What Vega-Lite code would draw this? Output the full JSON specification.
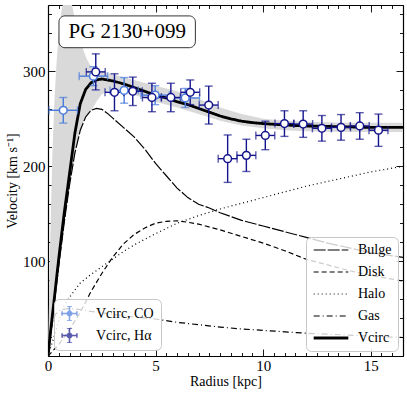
{
  "$schema": "https://vega.github.io/schema/vega-lite/v6.json",
  "width": 355,
  "height": 351,
  "autosize": "none",
  "padding": {"left": 48, "top": 5, "right": 4, "bottom": 39},
  "config": {
    "font": "Liberation Serif",
    "view": {"stroke": null},
    "axis": {"grid": false, "domainColor": "black", "domainWidth": 1.2, "tickColor": "black", "tickWidth": 0.9, "labelColor": "black", "titleColor": "black", "labelFontSize": 15, "titleFontSize": 14, "titleFontWeight": "normal", "labelFont": "Liberation Serif", "titleFont": "Liberation Serif"},
    "legend": {"labelFont": "Liberation Serif", "labelFontSize": 14, "labelColor": "black"}
  },
  "datasets": {
    "band": [
      {"r": 0, "lo": 0, "hi": 0}, {"r": 0.05, "lo": 8, "hi": 60}, {"r": 0.1, "lo": 18, "hi": 120}, {"r": 0.2, "lo": 38, "hi": 210},
      {"r": 0.3, "lo": 58, "hi": 270}, {"r": 0.4, "lo": 78, "hi": 310}, {"r": 0.5, "lo": 97, "hi": 340}, {"r": 0.6, "lo": 114, "hi": 360},
      {"r": 0.75, "lo": 140, "hi": 378}, {"r": 0.9, "lo": 163, "hi": 382}, {"r": 1.0, "lo": 178, "hi": 380}, {"r": 1.1, "lo": 193, "hi": 372},
      {"r": 1.25, "lo": 213, "hi": 355}, {"r": 1.35, "lo": 225, "hi": 345}, {"r": 1.5, "lo": 238, "hi": 333}, {"r": 1.65, "lo": 247, "hi": 322},
      {"r": 1.8, "lo": 252, "hi": 313}, {"r": 2.0, "lo": 258, "hi": 305}, {"r": 2.25, "lo": 268, "hi": 301}, {"r": 2.5, "lo": 276, "hi": 300},
      {"r": 3.0, "lo": 282, "hi": 297}, {"r": 3.5, "lo": 280, "hi": 294}, {"r": 4.0, "lo": 275, "hi": 291}, {"r": 5.0, "lo": 268, "hi": 285},
      {"r": 6.0, "lo": 262, "hi": 279}, {"r": 7.0, "lo": 255, "hi": 271}, {"r": 8.0, "lo": 248, "hi": 262}, {"r": 9.0, "lo": 243, "hi": 255},
      {"r": 10, "lo": 240, "hi": 250}, {"r": 11, "lo": 238, "hi": 248}, {"r": 12, "lo": 237, "hi": 247}, {"r": 14, "lo": 236, "hi": 246},
      {"r": 16.5, "lo": 236, "hi": 246}
    ],
    "curves": [
      {"c": "Bulge", "r": 0, "v": 0}, {"c": "Bulge", "r": 0.1, "v": 18}, {"c": "Bulge", "r": 0.2, "v": 37}, {"c": "Bulge", "r": 0.3, "v": 57},
      {"c": "Bulge", "r": 0.5, "v": 95}, {"c": "Bulge", "r": 0.75, "v": 140}, {"c": "Bulge", "r": 1.0, "v": 180}, {"c": "Bulge", "r": 1.25, "v": 214},
      {"c": "Bulge", "r": 1.5, "v": 238}, {"c": "Bulge", "r": 1.75, "v": 252}, {"c": "Bulge", "r": 2.0, "v": 259}, {"c": "Bulge", "r": 2.25, "v": 261},
      {"c": "Bulge", "r": 2.5, "v": 260}, {"c": "Bulge", "r": 2.75, "v": 256}, {"c": "Bulge", "r": 3.0, "v": 251}, {"c": "Bulge", "r": 3.5, "v": 241},
      {"c": "Bulge", "r": 4.0, "v": 231}, {"c": "Bulge", "r": 4.5, "v": 218}, {"c": "Bulge", "r": 5.0, "v": 203}, {"c": "Bulge", "r": 5.5, "v": 190},
      {"c": "Bulge", "r": 6.0, "v": 177}, {"c": "Bulge", "r": 6.5, "v": 167}, {"c": "Bulge", "r": 7.0, "v": 160}, {"c": "Bulge", "r": 7.5, "v": 156},
      {"c": "Bulge", "r": 8.0, "v": 151}, {"c": "Bulge", "r": 9.0, "v": 143}, {"c": "Bulge", "r": 10, "v": 137}, {"c": "Bulge", "r": 11, "v": 131},
      {"c": "Bulge", "r": 12, "v": 125}, {"c": "Bulge", "r": 13, "v": 119}, {"c": "Bulge", "r": 14, "v": 114}, {"c": "Bulge", "r": 15, "v": 109},
      {"c": "Bulge", "r": 16.5, "v": 104},
      {"c": "Disk", "r": 0, "v": 0}, {"c": "Disk", "r": 0.5, "v": 12}, {"c": "Disk", "r": 1.0, "v": 28}, {"c": "Disk", "r": 1.5, "v": 46},
      {"c": "Disk", "r": 2.0, "v": 68}, {"c": "Disk", "r": 2.5, "v": 87}, {"c": "Disk", "r": 3.0, "v": 104}, {"c": "Disk", "r": 3.5, "v": 118},
      {"c": "Disk", "r": 4.0, "v": 128}, {"c": "Disk", "r": 4.5, "v": 135}, {"c": "Disk", "r": 5.0, "v": 140}, {"c": "Disk", "r": 5.5, "v": 142},
      {"c": "Disk", "r": 6.0, "v": 142.5}, {"c": "Disk", "r": 6.5, "v": 141}, {"c": "Disk", "r": 7.0, "v": 139}, {"c": "Disk", "r": 8.0, "v": 133},
      {"c": "Disk", "r": 9.0, "v": 126}, {"c": "Disk", "r": 10, "v": 119}, {"c": "Disk", "r": 11, "v": 111}, {"c": "Disk", "r": 12, "v": 102},
      {"c": "Disk", "r": 13, "v": 96}, {"c": "Disk", "r": 14, "v": 90}, {"c": "Disk", "r": 15, "v": 85}, {"c": "Disk", "r": 16.5, "v": 79},
      {"c": "Halo", "r": 0, "v": 0}, {"c": "Halo", "r": 0.25, "v": 18}, {"c": "Halo", "r": 0.5, "v": 37}, {"c": "Halo", "r": 0.75, "v": 53},
      {"c": "Halo", "r": 1.0, "v": 62}, {"c": "Halo", "r": 1.5, "v": 77}, {"c": "Halo", "r": 2.0, "v": 86}, {"c": "Halo", "r": 2.5, "v": 94},
      {"c": "Halo", "r": 3.0, "v": 102}, {"c": "Halo", "r": 3.5, "v": 110}, {"c": "Halo", "r": 4.0, "v": 117}, {"c": "Halo", "r": 4.5, "v": 123},
      {"c": "Halo", "r": 5.0, "v": 129}, {"c": "Halo", "r": 6.0, "v": 140}, {"c": "Halo", "r": 7.0, "v": 148}, {"c": "Halo", "r": 8.0, "v": 155},
      {"c": "Halo", "r": 9.0, "v": 161}, {"c": "Halo", "r": 10, "v": 167}, {"c": "Halo", "r": 11, "v": 173}, {"c": "Halo", "r": 12, "v": 179},
      {"c": "Halo", "r": 13, "v": 184}, {"c": "Halo", "r": 14, "v": 189}, {"c": "Halo", "r": 15, "v": 194}, {"c": "Halo", "r": 16.5, "v": 200},
      {"c": "Gas", "r": 0, "v": 0}, {"c": "Gas", "r": 0.1, "v": 22}, {"c": "Gas", "r": 0.2, "v": 35}, {"c": "Gas", "r": 0.35, "v": 44},
      {"c": "Gas", "r": 0.6, "v": 49}, {"c": "Gas", "r": 1.0, "v": 50}, {"c": "Gas", "r": 1.5, "v": 49}, {"c": "Gas", "r": 2.0, "v": 47},
      {"c": "Gas", "r": 3.0, "v": 44}, {"c": "Gas", "r": 4.0, "v": 41}, {"c": "Gas", "r": 5.0, "v": 39}, {"c": "Gas", "r": 6.0, "v": 35.5},
      {"c": "Gas", "r": 7.0, "v": 33}, {"c": "Gas", "r": 8.0, "v": 30.5}, {"c": "Gas", "r": 9.0, "v": 28.5}, {"c": "Gas", "r": 10, "v": 27},
      {"c": "Gas", "r": 11, "v": 25.5}, {"c": "Gas", "r": 12, "v": 24}, {"c": "Gas", "r": 13, "v": 23}, {"c": "Gas", "r": 14, "v": 22},
      {"c": "Gas", "r": 15, "v": 21}, {"c": "Gas", "r": 16.5, "v": 19.5},
      {"c": "Vcirc", "r": 0, "v": 0}, {"c": "Vcirc", "r": 0.1, "v": 22}, {"c": "Vcirc", "r": 0.2, "v": 42}, {"c": "Vcirc", "r": 0.3, "v": 62},
      {"c": "Vcirc", "r": 0.5, "v": 103}, {"c": "Vcirc", "r": 0.75, "v": 150}, {"c": "Vcirc", "r": 1.0, "v": 192}, {"c": "Vcirc", "r": 1.25, "v": 235},
      {"c": "Vcirc", "r": 1.5, "v": 266}, {"c": "Vcirc", "r": 1.75, "v": 281}, {"c": "Vcirc", "r": 2.0, "v": 288}, {"c": "Vcirc", "r": 2.25, "v": 291},
      {"c": "Vcirc", "r": 2.5, "v": 292}, {"c": "Vcirc", "r": 3.0, "v": 290}, {"c": "Vcirc", "r": 3.5, "v": 287}, {"c": "Vcirc", "r": 4.0, "v": 283},
      {"c": "Vcirc", "r": 4.5, "v": 279}, {"c": "Vcirc", "r": 5.0, "v": 275}, {"c": "Vcirc", "r": 5.5, "v": 272}, {"c": "Vcirc", "r": 6.0, "v": 268},
      {"c": "Vcirc", "r": 6.5, "v": 265}, {"c": "Vcirc", "r": 7.0, "v": 261}, {"c": "Vcirc", "r": 7.5, "v": 257}, {"c": "Vcirc", "r": 8.0, "v": 253},
      {"c": "Vcirc", "r": 8.5, "v": 250}, {"c": "Vcirc", "r": 9.0, "v": 247.5}, {"c": "Vcirc", "r": 9.5, "v": 246}, {"c": "Vcirc", "r": 10, "v": 245},
      {"c": "Vcirc", "r": 11, "v": 243.5}, {"c": "Vcirc", "r": 12, "v": 242.5}, {"c": "Vcirc", "r": 13, "v": 242}, {"c": "Vcirc", "r": 14, "v": 241.5},
      {"c": "Vcirc", "r": 15, "v": 241}, {"c": "Vcirc", "r": 16.5, "v": 241}
    ],
    "obs": [
      {"s": "CO", "r": 0.71, "v": 259, "re": 0.66, "ve": 13.5},
      {"s": "CO", "r": 2.11, "v": 295, "re": 0.66, "ve": 10},
      {"s": "CO", "r": 3.54, "v": 280, "re": 0.66, "ve": 13.5},
      {"s": "CO", "r": 4.98, "v": 275, "re": 0.66, "ve": 10},
      {"s": "CO", "r": 6.38, "v": 272, "re": 0.66, "ve": 10},
      {"s": "Hα", "r": 2.22, "v": 299.5, "re": 0.44, "ve": 19},
      {"s": "Hα", "r": 3.09, "v": 278, "re": 0.44, "ve": 19.5},
      {"s": "Hα", "r": 3.94, "v": 279, "re": 0.44, "ve": 15},
      {"s": "Hα", "r": 4.83, "v": 272.5, "re": 0.44, "ve": 15},
      {"s": "Hα", "r": 5.71, "v": 272.5, "re": 0.44, "ve": 15},
      {"s": "Hα", "r": 6.61, "v": 278, "re": 0.44, "ve": 13},
      {"s": "Hα", "r": 7.47, "v": 264.5, "re": 0.44, "ve": 20},
      {"s": "Hα", "r": 8.35, "v": 208, "re": 0.44, "ve": 25},
      {"s": "Hα", "r": 9.22, "v": 211.5, "re": 0.44, "ve": 17},
      {"s": "Hα", "r": 10.1, "v": 232.5, "re": 0.44, "ve": 15},
      {"s": "Hα", "r": 10.99, "v": 245, "re": 0.44, "ve": 13.5},
      {"s": "Hα", "r": 11.86, "v": 244.5, "re": 0.44, "ve": 14},
      {"s": "Hα", "r": 12.73, "v": 240, "re": 0.44, "ve": 13.5},
      {"s": "Hα", "r": 13.62, "v": 241, "re": 0.44, "ve": 13.5},
      {"s": "Hα", "r": 14.49, "v": 242.5, "re": 0.44, "ve": 14},
      {"s": "Hα", "r": 15.36, "v": 238, "re": 0.44, "ve": 17}
    ]
  },
  "resolve": {"axis": {"x": "independent", "y": "independent"}},
  "layer": [
    {
      "data": {"name": "band"},
      "mark": {"type": "area", "color": "#d9d9d9", "clip": true},
      "encoding": {
        "x": {"field": "r", "type": "quantitative", "scale": {"domain": [0, 16.5], "nice": false, "zero": false},
          "axis": {"orient": "bottom", "title": "Radius [kpc]", "values": [0,0.5,1,1.5,2,2.5,3,3.5,4,4.5,5,5.5,6,6.5,7,7.5,8,8.5,9,9.5,10,10.5,11,11.5,12,12.5,13,13.5,14,14.5,15,15.5,16,16.5],
            "labelExpr": "datum.value % 5 === 0 ? format(datum.value, 'd') : ''", "tickSize": {"condition": {"test": "datum.value % 5 === 0", "value": -7}, "value": -3.5}, "labelPadding": 9, "labelFlush": false, "titlePadding": 1}},
        "y": {"field": "lo", "type": "quantitative", "scale": {"domain": [0, 370], "nice": false},
          "axis": {"orient": "left", "title": "Velocity [km s⁻¹]", "values": [0,20,40,60,80,100,120,140,160,180,200,220,240,260,280,300,320,340,360],
            "labelExpr": "datum.value > 0 && datum.value % 100 === 0 ? datum.label : ''", "tickSize": {"condition": {"test": "datum.value % 100 === 0", "value": -7}, "value": -3.5}, "labelPadding": 10, "labelFlush": false, "titlePadding": 3}},
        "y2": {"field": "hi"}
      }
    },
    {
      "data": {"name": "curves"},
      "mark": {"type": "line", "color": "black", "clip": true},
      "encoding": {
        "x": {"field": "r", "type": "quantitative",
          "axis": {"orient": "top", "title": null, "values": [0,0.5,1,1.5,2,2.5,3,3.5,4,4.5,5,5.5,6,6.5,7,7.5,8,8.5,9,9.5,10,10.5,11,11.5,12,12.5,13,13.5,14,14.5,15,15.5,16,16.5],
            "labels": false, "tickSize": {"condition": {"test": "datum.value % 5 === 0", "value": -7}, "value": -3.5}}},
        "y": {"field": "v", "type": "quantitative",
          "axis": {"orient": "right", "title": null, "values": [0,20,40,60,80,100,120,140,160,180,200,220,240,260,280,300,320,340,360],
            "labels": false, "tickSize": {"condition": {"test": "datum.value % 100 === 0", "value": -7}, "value": -3.5}}},
        "strokeDash": {"field": "c", "type": "nominal", "scale": {"domain": ["Bulge", "Disk", "Halo", "Gas", "Vcirc"], "range": [[12, 2], [5, 3], [1, 3], [6, 3, 1, 3], [1, 0]]},
          "legend": {"title": null, "orient": "bottom-right", "offset": 5, "symbolType": "stroke", "symbolSize": 1200, "clipHeight": 14, "symbolStrokeColor": "black", "rowPadding": 8, "labelOffset": 8,
            "fillColor": "rgba(255,255,255,0.8)", "strokeColor": "#c8c8c8", "cornerRadius": 5, "padding": 6}},
        "strokeWidth": {"field": "c", "type": "nominal", "scale": {"type": "ordinal", "domain": ["Bulge", "Disk", "Halo", "Gas", "Vcirc"], "range": [1.2, 1.2, 1.2, 1.2, 2.8]},
          "legend": {"title": null, "orient": "bottom-right", "offset": 5, "symbolType": "stroke", "symbolSize": 1200, "clipHeight": 14, "symbolStrokeColor": "black", "rowPadding": 8, "labelOffset": 8,
            "fillColor": "rgba(255,255,255,0.8)", "strokeColor": "#c8c8c8", "cornerRadius": 5, "padding": 6}}
      }
    },
    {
      "data": {"name": "obs"},
      "mark": {"type": "errorbar", "ticks": {"size": 8}, "thickness": 1.4},
      "encoding": {
        "x": {"field": "r", "type": "quantitative", "axis": null},
        "y": {"field": "v", "type": "quantitative", "axis": null},
        "yError": {"field": "ve"},
        "color": {"field": "s", "type": "nominal", "scale": {"domain": ["CO", "Hα"], "range": ["#4a7bdc", "#14148c"]}}
      }
    },
    {
      "data": {"name": "obs"},
      "mark": {"type": "errorbar", "ticks": {"size": 8}, "thickness": 1.4},
      "encoding": {
        "x": {"field": "r", "type": "quantitative", "axis": null},
        "xError": {"field": "re"},
        "y": {"field": "v", "type": "quantitative", "axis": null},
        "color": {"field": "s", "type": "nominal", "scale": {"domain": ["CO", "Hα"], "range": ["#4a7bdc", "#14148c"]}}
      }
    },
    {
      "data": {"name": "obs"},
      "mark": {"type": "point", "shape": "circle", "fill": "white", "filled": false, "opacity": 1, "size": 60, "strokeWidth": 1.5},
      "encoding": {
        "x": {"field": "r", "type": "quantitative", "axis": null},
        "y": {"field": "v", "type": "quantitative", "axis": null},
        "color": {"field": "s", "type": "nominal", "scale": {"domain": ["CO", "Hα"], "range": ["#4a7bdc", "#14148c"]},
          "legend": {"title": null, "orient": "bottom-left", "offset": 6,
            "symbolType": "M-1,-0.3L-1,0.3M-1,0L-0.3,0M0.3,0L1,0M1,-0.3L1,0.3M-0.35,-1L0.35,-1M0,-1L0,-0.3M0,0.3L0,1M-0.35,1L0.35,1M0.3,0A0.3,0.3,0,1,1,-0.3,0A0.3,0.3,0,1,1,0.3,0Z",
            "symbolSize": 220, "symbolFillColor": "white", "symbolStrokeWidth": 1.5, "rowPadding": 7, "clipHeight": 15, "labelOffset": 18,
            "labelExpr": "'Vcirc, ' + datum.label",
            "fillColor": "rgba(255,255,255,0.8)", "strokeColor": "#c8c8c8", "cornerRadius": 5, "padding": 7}}
      }
    },
    {
      "data": {"values": [{}]},
      "mark": {"type": "rect", "fill": "white", "stroke": "black", "strokeWidth": 0.8, "cornerRadius": 6},
      "encoding": {
        "x": {"datum": 0.51, "type": "quantitative", "axis": null},
        "x2": {"datum": 6.85},
        "y": {"datum": 358.5, "type": "quantitative", "axis": null},
        "y2": {"datum": 325}
      }
    },
    {
      "data": {"values": [{}]},
      "mark": {"type": "text", "fontSize": 21, "align": "center", "baseline": "middle", "color": "black"},
      "encoding": {
        "x": {"datum": 3.68, "type": "quantitative", "axis": null},
        "y": {"datum": 341.5, "type": "quantitative", "axis": null},
        "text": {"value": "PG 2130+099"}
      }
    }
  ]
}
